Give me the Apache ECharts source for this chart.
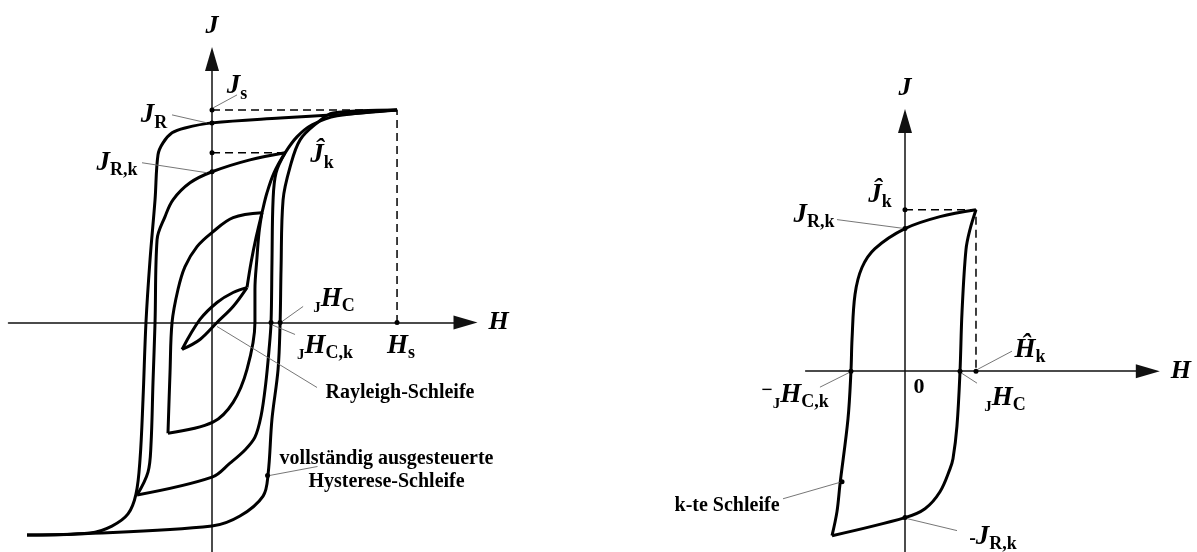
<!DOCTYPE html>
<html>
<head>
<meta charset="utf-8">
<script src="https://cdn.jsdelivr.net/npm/echarts@6/dist/echarts.min.js"></script>
<style>
  html, body { margin: 0; padding: 0; background: #fff; }
  #chart { width: 1197px; height: 552px; }
</style>
</head>
<body>
<div id="chart"></div>
<script>
// ---------- Left panel: loop family, H in units of H_s, J in units of J_s ----------
// Fully driven (saturation) loop: descending and ascending branches
const mainDown = [[1.000, 1.000], [0.692, 0.979], [0.368, 0.962], [0.000, 0.939], [-0.146, 0.915],
  [-0.216, 0.892], [-0.265, 0.845], [-0.292, 0.789], [-0.308, 0.577], [-0.335, 0.296], [-0.357, 0.000],
  [-0.373, -0.362], [-0.389, -0.643], [-0.411, -0.808], [-0.454, -0.901], [-0.541, -0.958],
  [-0.659, -0.991], [-1.000, -1.000]];
const mainUp = [[-1.000, -1.000], [-0.730, -0.995], [0.000, -0.958], [0.151, -0.911], [0.276, -0.817],
  [0.303, -0.714], [0.324, -0.455], [0.357, -0.221], [0.368, 0.000], [0.373, 0.249], [0.384, 0.577],
  [0.422, 0.732], [0.476, 0.859], [0.568, 0.939], [0.654, 0.986], [1.000, 1.000]];
// k-th loop
const kDown = [[0.395, 0.798], [0.205, 0.765], [0.000, 0.709], [-0.119, 0.657], [-0.211, 0.577],
  [-0.254, 0.498], [-0.297, 0.390], [-0.308, 0.000], [-0.319, -0.282], [-0.330, -0.577],
  [-0.346, -0.704], [-0.405, -0.812]];
const kUp = [[-0.405, -0.812], [0.000, -0.728], [0.097, -0.662], [0.178, -0.600], [0.232, -0.540],
  [0.265, -0.440], [0.290, -0.290], [0.308, -0.130], [0.319, 0.000], [0.324, 0.282], [0.330, 0.577],
  [0.346, 0.704], [0.395, 0.798]];
// smaller inner loop
const midDown = [[0.270, 0.516], [0.114, 0.493], [0.000, 0.423], [-0.081, 0.357], [-0.146, 0.263],
  [-0.184, 0.155], [-0.216, 0.000], [-0.227, -0.235], [-0.238, -0.521]];
const midUp = [[-0.238, -0.521], [0.005, -0.469], [0.114, -0.376], [0.189, -0.221], [0.232, 0.000],
  [0.232, 0.155], [0.243, 0.305], [0.254, 0.423], [0.270, 0.516]];
// Rayleigh loop
const rayDown = [[0.189, 0.164], [0.114, 0.141], [0.027, 0.094], [-0.065, 0.014], [-0.162, -0.127]];
const rayUp = [[-0.162, -0.127], [-0.065, -0.080], [0.027, 0.000], [0.114, 0.075], [0.189, 0.164]];
// commutation curve through the loop tips
const tipCurve = [[0.189, 0.164], [0.211, 0.282], [0.238, 0.399], [0.270, 0.516], [0.297, 0.610],
  [0.335, 0.704], [0.395, 0.798], [0.459, 0.873], [0.541, 0.930], [0.676, 0.972], [1.000, 1.000]];
// dashed guides
const satGuide = [[0, 1], [1, 1], [1, 0]];
const kPeakGuide = [[0, 0.798], [0.395, 0.798]];
// marked points
const leftDots = [[0, 1], [0, 0.939], [0, 0.798], [0, 0.709], [1, 0], [0.368, 0], [0.319, 0], [0.300, -0.720]];
const leftAnchors = {
  Js: [0, 1], JR: [0, 0.939], Jhat: [0.395, 0.798], JRk: [0, 0.709],
  HC: [0.368, 0], HCk: [0.319, 0], Hs: [1, 0], rayleigh: [0.027, -0.019], full: [0.300, -0.720]
};

// ---------- Right panel: k-th loop, H in units of Ĥ_k, J in units of Ĵ_k ----------
const loopDown = [[1.000, 1.000], [0.493, 0.957], [0.000, 0.883], [-0.423, 0.759], [-0.606, 0.642],
  [-0.704, 0.475], [-0.746, 0.198], [-0.761, 0.000], [-0.803, -0.296], [-0.915, -0.698],
  [-0.958, -0.870], [-1.028, -1.019]];
const loopUp = [[-1.028, -1.019], [0.000, -0.907], [0.282, -0.852], [0.493, -0.747], [0.634, -0.605],
  [0.676, -0.543], [0.732, -0.340], [0.775, 0.000], [0.803, 0.364], [0.859, 0.753], [0.915, 0.877],
  [1.000, 1.000]];
const peakGuide = [[0, 1], [1, 1], [1, 0]];
const rightDots = [[0, 1], [0, 0.883], [1, 0], [-0.761, 0], [0.775, 0], [0, -0.907], [-0.887, -0.685]];
const rightAnchors = {
  Jhat: [0, 1], JRk: [0, 0.883], Hhat: [1, 0], zero: [0, 0],
  HCkNeg: [-0.761, 0], HC: [0.775, 0], loop: [-0.887, -0.685], JRkNeg: [0, -0.907]
};

// ---------- text and leader layout ----------
const SERIF = '"Liberation Serif", "DejaVu Serif", serif';
const plain = { color: '#000', textBorderWidth: 0, textBorderColor: 'transparent', fontFamily: SERIF };
function rs(extra) { return Object.assign({}, plain, extra); }
const RICH = {
  i: rs({ fontStyle: 'italic', fontWeight: 'bold', fontSize: 27, lineHeight: 30, verticalAlign: 'top' }),
  s: rs({ fontWeight: 'bold', fontSize: 18, lineHeight: 14, verticalAlign: 'bottom' }),
  p: rs({ fontWeight: 'bold', fontSize: 15, lineHeight: 23, verticalAlign: 'bottom' }),
  m: rs({ fontWeight: 'bold', fontSize: 20, lineHeight: 30, verticalAlign: 'top' }),
  t: rs({ fontWeight: 'bold', fontSize: 20, lineHeight: 23 }),
  n: rs({ fontWeight: 'bold', fontSize: 22, lineHeight: 26 })
};
const leftText = {
  Js:       { text: '{i|J}{s|s}',       off: [25, -22], lead: [[1, -2], [25, -15]] },
  JR:       { text: '{i|J}{s|R}',       off: [-58, -6], lead: [[-5, 0], [-40, -8]] },
  Jhat:     { text: '{i|Ĵ}{s|k}',       off: [37, 4] },
  JRk:      { text: '{i|J}{s|R,k}',     off: [-95, -7], lead: [[-5, 1], [-70, -9]] },
  HC:       { text: '{p|J}{i|H}{s|C}',  off: [54, -22], lead: [[2, -1], [23, -16]] },
  HCk:      { text: '{p|J}{i|H}{s|C,k}', off: [54, 25], lead: [[0, 2], [24, 12]] },
  Hs:       { text: '{i|H}{s|s}',       off: [4, 25] },
  rayleigh: { text: '{t|Rayleigh-Schleife}', off: [183, 66], lead: [[0, 0], [100, 61]] },
  full:     { text: '{t|vollständig ausgesteuerte}\n{t|Hysterese-Schleife}', off: [119, -5], lead: [[2, 0], [50, -9]] }
};
const rightText = {
  Jhat:   { text: '{i|Ĵ}{s|k}',          off: [-25, -13] },
  JRk:    { text: '{i|J}{s|R,k}',        off: [-91, -12], lead: [[0, 0], [-68, -9]] },
  Hhat:   { text: '{i|Ĥ}{s|k}',          off: [54, -20], lead: [[2, -2], [36, -20]] },
  zero:   { text: '{n|0}',               off: [14, 16] },
  HCkNeg: { text: '{m|−}{p|J}{i|H}{s|C,k}', off: [-56, 25], lead: [[-1, 1], [-31, 16]] },
  HC:     { text: '{p|J}{i|H}{s|C}',     off: [45, 28], lead: [[0, 1], [17, 12]] },
  loop:   { text: '{t|k-te Schleife}',   off: [-115, 24], lead: [[0, 0], [-59, 17]] },
  JRkNeg: { text: '{t|-}{i|J}{s|R,k}',   off: [88, 21], lead: [[2, 1], [52, 13]] }
};

// ---------- chart ----------
const chart = echarts.init(document.getElementById('chart'), null, { renderer: 'canvas' });

const nameStyle = { fontFamily: SERIF, fontStyle: 'italic', fontWeight: 'bold', fontSize: 26, color: '#000' };
function axisPair(grid, xr, yr) {
  const line = {
    onZero: true, symbol: ['none', 'triangle'], symbolSize: [14, 24],
    lineStyle: { color: '#111', width: 1.5 }
  };
  const common = {
    type: 'value', gridIndex: grid, axisLine: line, axisTick: { show: false },
    axisLabel: { show: false }, splitLine: { show: false }, nameLocation: 'end', nameTextStyle: nameStyle
  };
  return {
    x: Object.assign({}, common, { min: xr[0], max: xr[1], name: 'H', nameGap: 23 }),
    y: Object.assign({}, common, { min: yr[0], max: yr[1], name: 'J', nameGap: 20 })
  };
}
const leftAxes = axisPair(0, [-1.1, 1.37], [-1.08, 1.24]);
const rightAxes = axisPair(1, [-1.4, 3.42], [-1.12, 1.55]);

const series = [];
function curve(data, g) {
  series.push({
    type: 'line', xAxisIndex: g, yAxisIndex: g, data: data, smooth: 0.35, symbol: 'none',
    lineStyle: { color: '#000', width: 3 }, silent: true, clip: false, z: 3
  });
}
function dashed(data, g) {
  series.push({
    type: 'line', xAxisIndex: g, yAxisIndex: g, data: data, symbol: 'none',
    lineStyle: { color: '#000', width: 1.5, type: [8, 5] }, silent: true, clip: false, z: 2
  });
}
function dots(data, g) {
  series.push({
    type: 'scatter', xAxisIndex: g, yAxisIndex: g, data: data, symbolSize: 5,
    itemStyle: { color: '#000', opacity: 1 }, silent: true, z: 5
  });
}
function labels(anchors, texts, g) {
  series.push({
    type: 'scatter', xAxisIndex: g, yAxisIndex: g, symbolSize: 0, silent: true, z: 6,
    itemStyle: { color: '#000', opacity: 1 },
    label: {
      show: true, position: 'inside', align: 'center', verticalAlign: 'middle',
      color: '#000', textBorderWidth: 0, textBorderColor: 'transparent', rich: RICH
    },
    data: Object.keys(texts).map(function (k) {
      return { value: anchors[k], label: { formatter: texts[k].text, offset: texts[k].off } };
    })
  });
}

[mainDown, mainUp, kDown, kUp, midDown, midUp, rayDown, rayUp, tipCurve].forEach(function (d) { curve(d, 0); });
dashed(satGuide, 0);
dashed(kPeakGuide, 0);
dots(leftDots, 0);
labels(leftAnchors, leftText, 0);

[loopDown, loopUp].forEach(function (d) { curve(d, 1); });
dashed(peakGuide, 1);
dots(rightDots, 1);
labels(rightAnchors, rightText, 1);

chart.setOption({
  animation: false,
  backgroundColor: '#fff',
  grid: [
    { left: 8.5, top: 58.9, width: 457, height: 494.2 },
    { left: 805.6, top: 120.9, width: 342.2, height: 432.5 }
  ],
  xAxis: [leftAxes.x, rightAxes.x],
  yAxis: [leftAxes.y, rightAxes.y],
  series: series
});

// thin leader lines from each marked point to its label
const leaders = [];
function addLeaders(anchors, texts, g) {
  Object.keys(texts).forEach(function (k) {
    const t = texts[k];
    if (!t.lead) return;
    const p = chart.convertToPixel({ gridIndex: g }, anchors[k]);
    leaders.push({
      type: 'line', silent: true, z: 4,
      shape: { x1: p[0] + t.lead[0][0], y1: p[1] + t.lead[0][1], x2: p[0] + t.lead[1][0], y2: p[1] + t.lead[1][1] },
      style: { stroke: '#666', lineWidth: 0.9 }
    });
  });
}
addLeaders(leftAnchors, leftText, 0);
addLeaders(rightAnchors, rightText, 1);
chart.setOption({ graphic: leaders });
</script>
</body>
</html>
